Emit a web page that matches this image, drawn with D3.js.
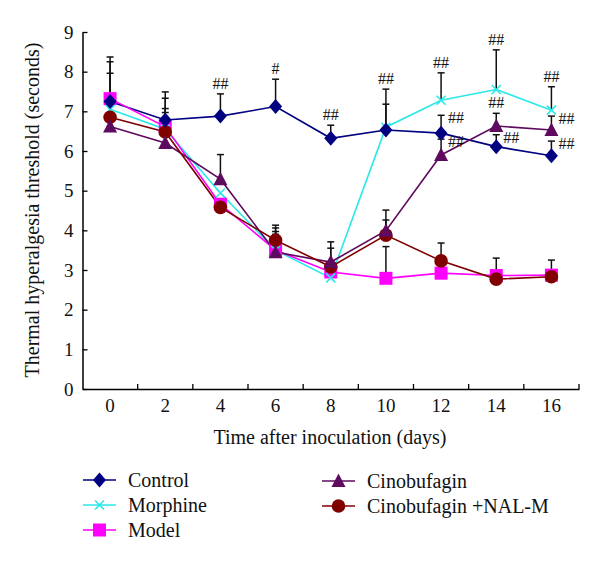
<!DOCTYPE html>
<html><head><meta charset="utf-8">
<script src="https://cdn.jsdelivr.net/npm/d3@7/dist/d3.min.js"></script>
<style>body{margin:0;background:#fff}svg{display:block}text{font-family:"Liberation Serif","DejaVu Serif",serif}</style>
</head><body><svg id="c" width="600" height="564"></svg>
<script>
const days = ["0","2","4","6","8","10","12","14","16"];
const yTicks = [0,1,2,3,4,5,6,7,8,9];
const seriesNames = ["Control","Morphine","Model","Cinobufagin","Cinobufagin +NAL-M"];
const control   = [7.25,6.78,6.88,7.12,6.32,6.53,6.45,6.11,5.88];
const morphine  = [7.05,6.55,4.94,3.50,2.80,6.60,7.28,7.55,7.03];
const model     = [7.32,6.61,4.66,3.50,2.95,2.79,2.92,2.86,2.87];
const cinobufagin = [6.62,6.20,5.29,3.45,3.20,3.99,5.90,6.63,6.53];
const nalm      = [6.85,6.48,4.58,3.75,3.08,3.88,3.23,2.77,2.83];
// upper SD (null = not visible)
const controlErr = [1.12,0.71,0.56,0.69,0.33,0.65,0.45,0.30,0.37];
const morphineErr = [0.91,0.52,null,0.47,null,0.96,0.69,1.00,0.59];
const modelErr = [0.93,0.72,null,0.56,null,0.80,null,null,null];
const cinobufaginErr = [null,null,0.62,0.45,0.35,0.52,0.40,0.32,0.35];
const nalmErr = [null,0.49,null,0.38,0.63,0.38,0.45,0.53,0.42];
// significance marks: series index, day index, label, placement
const marks = [
  [0,2,"##","above"],[0,3,"#","above"],[0,4,"##","above"],
  [1,5,"##","above"],[1,6,"##","above"],[1,7,"##","above"],[1,8,"##","above"],
  [0,6,"##","right"],[3,6,"##","right"],[3,7,"##","above"],[0,7,"##","right"],
  [3,8,"##","right"],[0,8,"##","right"]
];

const values = [control,morphine,model,cinobufagin,nalm];
const errs = [controlErr,morphineErr,modelErr,cinobufaginErr,nalmErr];
const colors = ["#000080","#2AE8E8","#FF00FF","#5E0A5E","#800000"];
const shapes = ["diamond","cross","square","triangle","circle"];

const svg = d3.select("#c");
const x = d3.scaleBand().domain(days).range([82.5,579]).padding(0);
const y = d3.scaleLinear().domain([0,9]).range([389,32]);
const cx = i => x(days[i]) + x.bandwidth()/2;

// axes
const ya = svg.append("g").attr("transform","translate(82.5,0)")
  .call(d3.axisLeft(y).tickValues(yTicks).tickSizeInner(-5).tickSizeOuter(0).tickPadding(9));
ya.select(".domain").attr("stroke","#000").attr("stroke-width",1.5);
ya.selectAll(".tick line").attr("stroke","#000").attr("stroke-width",1.3);
ya.selectAll("text").attr("font-size",19).attr("fill","#111").attr("font-family","Liberation Serif");

const xa = svg.append("g").attr("transform","translate(0,389)")
  .call(d3.axisBottom(x).tickSize(0).tickPadding(10));
xa.select(".domain").attr("stroke","#000").attr("stroke-width",1.5);
xa.selectAll("text").attr("font-size",19).attr("fill","#111").attr("font-family","Liberation Serif");
// tick marks at category boundaries (inward)
svg.append("g").selectAll("line").data(days).join("line")
  .attr("x1",d=>x(d)+x.bandwidth()).attr("x2",d=>x(d)+x.bandwidth())
  .attr("y1",389).attr("y2",384).attr("stroke","#000").attr("stroke-width",1.3);

svg.append("text").attr("x",330).attr("y",444).attr("text-anchor","middle")
  .attr("font-size",20).attr("fill","#111").text("Time after inoculation (days)");
svg.append("text").attr("transform","translate(39,210) rotate(-90)").attr("text-anchor","middle")
  .attr("font-size",20).attr("fill","#111").text("Thermal hyperalgesia threshold (seconds)");

// error bars
values.forEach((vals,s)=>{
  const g = svg.append("g");
  vals.forEach((v,i)=>{
    const e = errs[s][i];
    if(e==null) return;
    g.append("line").attr("x1",cx(i)).attr("x2",cx(i)).attr("y1",y(v)).attr("y2",y(v+e))
      .attr("stroke","#111").attr("stroke-width",1.5);
    g.append("line").attr("x1",cx(i)-3.5).attr("x2",cx(i)+3.5).attr("y1",y(v+e)).attr("y2",y(v+e))
      .attr("stroke","#111").attr("stroke-width",1.5);
  });
});

function marker(g,shape,color,px,py){
  if(shape==="diamond") g.append("path").attr("d",`M${px},${py-7.5}L${px+6.5},${py}L${px},${py+7.5}L${px-6.5},${py}Z`).attr("fill",color);
  else if(shape==="square") g.append("rect").attr("x",px-6.5).attr("y",py-6.5).attr("width",13).attr("height",13).attr("fill",color);
  else if(shape==="triangle") g.append("path").attr("d",`M${px},${py-7.5}L${px+7},${py+6}L${px-7},${py+6}Z`).attr("fill",color);
  else if(shape==="circle") g.append("circle").attr("cx",px).attr("cy",py).attr("r",6.8).attr("fill",color);
  else if(shape==="cross") g.append("path").attr("d",`M${px-4.5},${py-4.5}L${px+4.5},${py+4.5}M${px-4.5},${py+4.5}L${px+4.5},${py-4.5}`).attr("stroke",color).attr("stroke-width",1.6).attr("fill","none");
}

// lines
const line = d3.line().x((d,i)=>cx(i)).y(d=>y(d));
values.forEach((vals,s)=>{
  svg.append("path").datum(vals).attr("d",line).attr("fill","none")
    .attr("stroke",colors[s]).attr("stroke-width",1.6);
});
// markers
[2,1,4,3,0].forEach(s=>{
  const g = svg.append("g");
  values[s].forEach((v,i)=>marker(g,shapes[s],colors[s],cx(i),y(v)));
});

// significance marks
marks.forEach(([s,i,lab,pl])=>{
  const v = values[s][i], e = errs[s][i]||0;
  const top = y(v+e);
  if(pl==="above"){
    svg.append("text").attr("x",cx(i)).attr("y",top-5).attr("text-anchor","middle")
      .attr("font-size",16).attr("fill","#111").text(lab);
  } else {
    svg.append("text").attr("x",cx(i)+7).attr("y",top+8).attr("text-anchor","start")
      .attr("font-size",16).attr("fill","#111").text(lab);
  }
});

// legend
const legPos = [[83,480],[83,505],[83,530],[322,481],[322,506]];
seriesNames.forEach((n,s)=>{
  const [lx,ly] = legPos[s];
  const g = svg.append("g");
  g.append("line").attr("x1",lx).attr("x2",lx+33).attr("y1",ly).attr("y2",ly)
    .attr("stroke",colors[s]).attr("stroke-width",1.6);
  marker(g,shapes[s],colors[s],lx+16.5,ly);
  g.append("text").attr("x",lx+45).attr("y",ly+7).attr("font-size",20).attr("fill","#111").text(n);
});
</script></body></html>
